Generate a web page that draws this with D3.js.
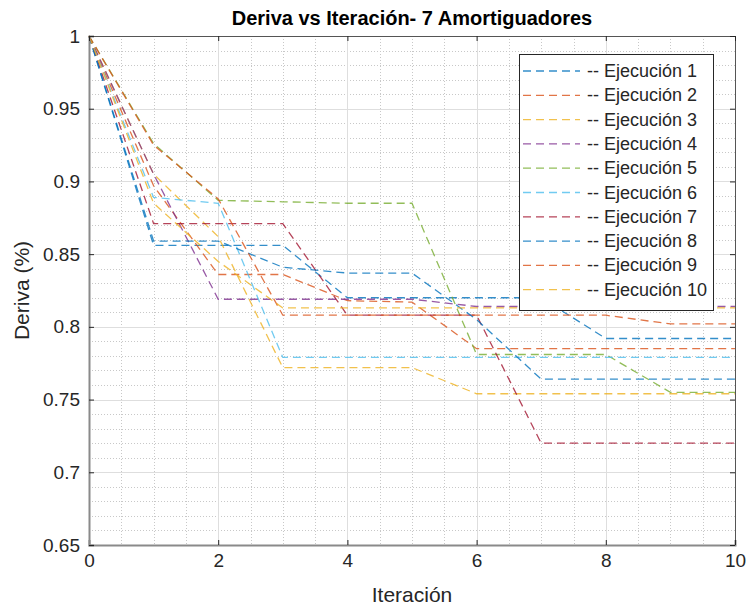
<!DOCTYPE html>
<html>
<head>
<meta charset="utf-8">
<script src="https://cdn.jsdelivr.net/npm/d3@7"></script>
<style>
  body { margin: 0; background: #fff; }
  text { font-family: "Liberation Sans", Arial, Helvetica, sans-serif; fill: #262626; }
</style>
</head>
<body>
<svg id="chart" width="747" height="609"></svg>
<script>
// data
const iterations = [0, 1, 2, 3, 4, 5, 6, 7, 8, 9, 10];
const seriesNames = ['-- Ejecución 1', '-- Ejecución 2', '-- Ejecución 3', '-- Ejecución 4', '-- Ejecución 5',
  '-- Ejecución 6', '-- Ejecución 7', '-- Ejecución 8', '-- Ejecución 9', '-- Ejecución 10'];
const ejec1 = [1, 0.856, 0.856, 0.856, 0.820, 0.820, 0.820, 0.820, 0.792, 0.792, 0.792];
const ejec2 = [1, 0.897, 0.836, 0.836, 0.818, 0.817, 0.785, 0.785, 0.785, 0.785, 0.785];
const ejec3 = [1, 0.905, 0.862, 0.772, 0.772, 0.772, 0.754, 0.754, 0.754, 0.754, 0.754];
const ejec4 = [1, 0.905, 0.819, 0.819, 0.819, 0.819, 0.814, 0.814, 0.814, 0.814, 0.814];
const ejec5 = [1, 0.926, 0.887, 0.886, 0.885, 0.885, 0.781, 0.781, 0.781, 0.755, 0.755];
const ejec6 = [1, 0.889, 0.885, 0.779, 0.779, 0.779, 0.779, 0.779, 0.779, 0.779, 0.779];
const ejec7 = [1, 0.871, 0.871, 0.871, 0.808, 0.808, 0.808, 0.720, 0.720, 0.720, 0.720];
const ejec8 = [1, 0.859, 0.859, 0.841, 0.837, 0.837, 0.805, 0.764, 0.764, 0.764, 0.764];
const ejec9 = [1, 0.925, 0.888, 0.808, 0.808, 0.808, 0.808, 0.808, 0.808, 0.802, 0.802];
const ejec10 = [1, 0.885, 0.845, 0.813, 0.813, 0.813, 0.813, 0.813, 0.813, 0.813, 0.813];
const seriesValues = [ejec1, ejec2, ejec3, ejec4, ejec5, ejec6, ejec7, ejec8, ejec9, ejec10];
const xTicks = [0, 2, 4, 6, 8, 10];
const yTicks = [0.65, 0.7, 0.75, 0.8, 0.85, 0.9, 0.95, 1];

const colors = ['#0072BD', '#D95319', '#EDB120', '#7E2F8E', '#77AC30',
  '#4DBEEE', '#A2142F', '#0072BD', '#D95319', '#EDB120'];

const padLeft = 89, padRight = 735, padTop = 36, padBottom = 545;

const x = d3.scaleLinear().domain([0, 10]).range([padLeft, padRight]);
const y = d3.scaleLinear().domain([0.65, 1]).range([padBottom, padTop]);

const svg = d3.select('#chart');

// minor grid
const minorX = d3.range(0.5, 10, 0.5).filter(d => d % 2 !== 0);
const minorY = d3.range(0.66, 1.0, 0.01).filter(d => Math.abs(d * 20 - Math.round(d * 20)) > 1e-6);

svg.append('g').selectAll('line')
  .data(minorX).enter().append('line')
  .attr('x1', d => Math.round(x(d)) + 0.5).attr('x2', d => Math.round(x(d)) + 0.5)
  .attr('y1', padTop).attr('y2', padBottom)
  .attr('stroke', '#c8c8c8').attr('stroke-dasharray', '1,2');

svg.append('g').selectAll('line')
  .data(minorY).enter().append('line')
  .attr('x1', padLeft).attr('x2', padRight)
  .attr('y1', d => Math.round(y(d)) + 0.5).attr('y2', d => Math.round(y(d)) + 0.5)
  .attr('stroke', '#c8c8c8').attr('stroke-dasharray', '1,2');

// major grid
svg.append('g').selectAll('line')
  .data(xTicks.slice(1, -1)).enter().append('line')
  .attr('x1', d => Math.round(x(d)) + 0.5).attr('x2', d => Math.round(x(d)) + 0.5)
  .attr('y1', padTop).attr('y2', padBottom)
  .attr('stroke', '#dedede');

svg.append('g').selectAll('line')
  .data(yTicks.slice(1, -1)).enter().append('line')
  .attr('x1', padLeft).attr('x2', padRight)
  .attr('y1', d => Math.round(y(d)) + 0.5).attr('y2', d => Math.round(y(d)) + 0.5)
  .attr('stroke', '#dedede');

// series
const line = d3.line()
  .x((d, i) => x(iterations[i]))
  .y(d => y(d));

svg.append('g').selectAll('path')
  .data(seriesValues).enter().append('path')
  .attr('d', d => line(d))
  .attr('fill', 'none')
  .attr('stroke', (d, i) => colors[i])
  .attr('stroke-opacity', 0.8)
  .attr('stroke-width', 1.3)
  .attr('stroke-dasharray', '8,5');

// box: top and right
svg.append('line').attr('x1', padLeft).attr('x2', padRight).attr('y1', padTop + 0.5).attr('y2', padTop + 0.5)
  .attr('stroke', '#555');
svg.append('line').attr('x1', padRight + 0.5).attr('x2', padRight + 0.5).attr('y1', padTop).attr('y2', padBottom)
  .attr('stroke', '#555');

// axes
const xAxis = d3.axisBottom(x).tickValues(xTicks).tickSize(-5).tickPadding(9)
  .tickFormat(d3.format('d'));
const yAxis = d3.axisLeft(y).tickValues(yTicks).tickSize(-5).tickPadding(9)
  .tickFormat(d => d === 1 ? '1' : String(+d.toFixed(2)));

const gx = svg.append('g').attr('transform', `translate(0,${padBottom})`).call(xAxis);
const gy = svg.append('g').attr('transform', `translate(${padLeft},0)`).call(yAxis);

// top / right ticks
svg.append('g').attr('transform', `translate(0,${padTop})`)
  .call(d3.axisTop(x).tickValues(xTicks).tickSize(-5).tickFormat(''))
  .select('.domain').remove();
svg.append('g').attr('transform', `translate(${padRight},0)`)
  .call(d3.axisRight(y).tickValues(yTicks).tickSize(-5).tickFormat(''))
  .select('.domain').remove();

[gx, gy].forEach(g => {
  g.select('.domain').attr('stroke', '#8a8a8a').attr('stroke-width', 2);
  g.selectAll('.tick text').style('font-size', '19px').attr('fill', '#262626');
});
svg.selectAll('.tick line').attr('stroke', '#262626');

// title and labels
svg.append('text')
  .attr('x', (padLeft + padRight) / 2).attr('y', 25)
  .attr('text-anchor', 'middle')
  .style('font-size', '20px').style('font-weight', 'bold')
  .style('fill', '#000')
  .text('Deriva vs Iteración- 7 Amortiguadores');

svg.append('text')
  .attr('x', (padLeft + padRight) / 2).attr('y', 602)
  .attr('text-anchor', 'middle')
  .style('font-size', '21px')
  .text('Iteración');

svg.append('text')
  .attr('transform', `translate(29,${(padTop + padBottom) / 2}) rotate(-90)`)
  .attr('text-anchor', 'middle')
  .style('font-size', '21px')
  .text('Deriva (%)');

// legend
const legX = 519, legY = 54, legW = 194, legH = 256, rowH = 24.3;
const leg = svg.append('g');
leg.append('rect')
  .attr('x', legX + 0.5).attr('y', legY + 0.5)
  .attr('width', legW).attr('height', legH)
  .attr('fill', '#fff').attr('stroke', '#262626');

const rows = leg.selectAll('g.row')
  .data(seriesNames).enter().append('g')
  .attr('class', 'row')
  .attr('transform', (d, i) => `translate(${legX},${legY + 17 + i * rowH})`);

rows.append('line')
  .attr('x1', 4).attr('x2', 61)
  .attr('stroke', (d, i) => colors[i])
  .attr('stroke-opacity', 0.8)
  .attr('stroke-width', 1.3)
  .attr('stroke-dasharray', '8,5');

rows.append('text')
  .attr('x', 68).attr('y', 6)
  .style('font-size', '18px')
  .text(d => d);
</script>
</body>
</html>
